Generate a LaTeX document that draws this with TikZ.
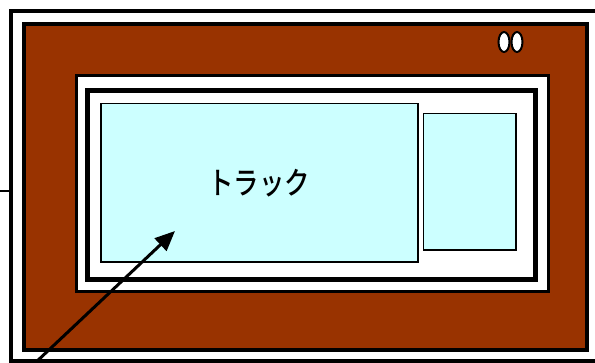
\documentclass[tikz,border=0pt]{standalone}
\usepackage{fontspec}
\usetikzlibrary{arrows.meta}
\newfontfamily\jpfont{Noto Sans CJK JP Medium}
\definecolor{mybrown}{RGB}{153, 51, 0}
\definecolor{mycyan}{RGB}{204, 255, 255}

\begin{document}
\begin{tikzpicture}[x=1pt,y=-1pt]

\tikzstyle{frame} = [draw=black, line width=4, fill=white]
\tikzstyle{panel} = [draw=black, line width=1.5, fill=mycyan]
\tikzstyle{lamp} = [draw=black, line width=2, fill=white]

\useasboundingbox (0,0) rectangle (595,362);

% =========================
% outer case
% =========================
\draw[frame] (10.5,10.5) rectangle (605,360.5);
\draw[frame, fill=mybrown] (23.5,23.5) rectangle (587,350);
\draw[lamp] (504,42) ellipse (5.5 and 10);
\draw[lamp] (517,42) ellipse (5.5 and 10);

% =========================
% screen
% =========================
\draw[frame, line width=3.5] (76.5,75.5) rectangle (548.5,291.5);
\draw[frame, line width=5] (87.5,90.5) rectangle (535,279.5);
\draw[panel] (101,103.5) rectangle (418,262);
\draw[panel] (423.5,113.5) rectangle (516,250);
\node[xscale=0.82] (track) at (259,183) {\jpfont\fontsize{31}{31}\selectfont トラック};

% =========================
% pointer
% =========================
\coordinate (tail) at (34,364);
\coordinate (tip) at (175,231);
\draw[line width=3, -{Triangle[length=20, width=17]}] (tail) -- (tip);
\draw[line width=1.5] (0,191) -- (9,191);

\end{tikzpicture}
\end{document}
